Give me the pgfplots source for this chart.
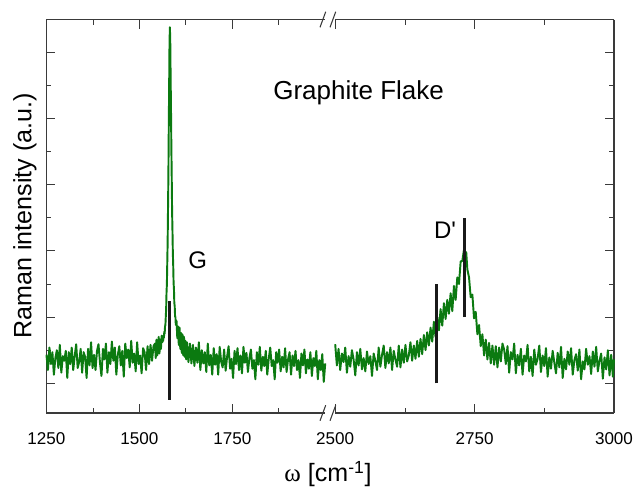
\documentclass[border=0pt]{standalone}
\usepackage{fontspec}
\setmainfont{Liberation Sans}
\newfontfamily\serif{Liberation Serif}
\usepackage{pgfplots}
\pgfplotsset{compat=1.18}
\definecolor{spec}{HTML}{0B7A10}
\definecolor{frame}{HTML}{3A3A3A}

\pgfplotsset{
  brk/.style={
    scale only axis, width=209.1pt, height=295.1pt,
    anchor=south west, clip=false,
    ymin=0.551, ymax=6.495,
    ytick={1,2,3,4,5,6}, minor ytick={1.5,2.5,3.5,4.5,5.5},
    yticklabels={},
    tick align=inside,
    major tick length=6.75pt, minor tick length=3.75pt,
    tick style={line width=0.6pt, frame},
    axis line style={line width=0.8pt, frame},
    xticklabel style={font=\fontsize{12.8}{14}\selectfont, anchor=base, yshift=-24pt},
    axis x line*=box,
  },
  spec/.style={color=spec, line width=1.45pt, line join=round},
  marker/.style={color=black!90, line width=2.3pt},
}

\begin{document}
\begin{tikzpicture}
\path[use as bounding box] (0,0) rectangle (474.75pt,369pt);

% left part of the broken axis
\begin{axis}[brk, at={(34.84pt,59.25pt)},
  xmin=1250, xmax=2000,
  xtick={1250,1500,1750}, xticklabels={1250,1500,1750},
  minor xtick={1375,1625,1875},
  axis y line*=left, ytick pos=left]
\addplot[spec] coordinates {
(1250,1.43)(1254,1.20)(1258,1.54)(1262,1.29)(1266,1.47)(1270,1.13)(1274,1.38)(1278,1.50)
(1282,1.23)(1286,1.58)(1290,1.16)(1294,1.41)(1298,1.34)(1302,1.49)(1306,1.08)(1310,1.47)
(1314,1.29)(1318,1.54)(1322,1.20)(1326,1.41)(1330,1.59)(1334,1.23)(1338,1.32)(1342,1.52)
(1346,1.16)(1350,1.47)(1354,1.40)(1358,1.08)(1362,1.52)(1366,1.27)(1370,1.62)(1374,1.23)
(1378,1.43)(1382,1.20)(1386,1.49)(1390,1.59)(1394,1.31)(1398,1.11)(1402,1.52)(1406,1.36)
(1410,1.60)(1414,1.16)(1418,1.47)(1422,1.29)(1426,1.63)(1430,1.34)(1434,1.54)(1438,1.13)
(1442,1.43)(1446,1.56)(1450,1.27)(1454,1.49)(1458,1.10)(1462,1.60)(1466,1.38)(1470,1.51)
(1474,1.24)(1478,1.64)(1482,1.31)(1486,1.45)(1490,1.18)(1494,1.62)(1498,1.29)(1502,1.42)
(1506,1.15)(1510,1.53)(1514,1.47)(1518,1.20)(1522,1.56)(1526,1.29)(1530,1.58)(1534,1.34)
(1538,1.56)(1542,1.60)(1544,1.38)(1546,1.66)(1548,1.42)(1550,1.50)(1552,1.70)(1554,1.45)
(1556,1.66)(1558,1.52)(1560,1.72)(1562,1.62)(1563,1.68)(1564,1.64)(1565,1.72)(1566,1.69)
(1567,1.78)(1568,1.75)(1569,1.86)(1570,1.88)(1571,2.00)(1572,2.12)(1573,2.37)(1574,2.50)
(1575,2.82)(1576,3.12)(1577,3.62)(1578,4.12)(1579,4.83)(1580,5.45)(1581,6.10)(1582,6.38)
(1583,6.20)(1584,5.65)(1585,5.16)(1586,4.58)(1587,4.12)(1588,3.60)(1589,3.31)(1590,2.97)
(1591,2.78)(1592,2.52)(1593,2.42)(1594,2.21)(1595,2.17)(1596,2.01)(1597,2.00)(1598,1.88)
(1600,1.94)(1602,1.68)(1604,1.86)(1606,1.58)(1608,1.84)(1610,1.52)(1612,1.76)(1614,1.46)
(1616,1.74)(1618,1.42)(1620,1.70)(1622,1.40)(1624,1.64)(1626,1.36)(1628,1.62)(1632,1.32)
(1636,1.60)(1640,1.30)(1644,1.58)(1648,1.26)(1652,1.54)(1656,1.31)(1660,1.62)(1664,1.20)
(1668,1.50)(1672,1.30)(1676,1.47)(1680,1.17)(1684,1.60)(1688,1.27)(1692,1.43)(1696,1.13)
(1700,1.53)(1704,1.28)(1708,1.44)(1712,1.13)(1716,1.55)(1720,1.33)(1724,1.24)(1728,1.51)
(1732,1.19)(1736,1.40)(1740,1.56)(1744,1.22)(1748,1.37)(1752,1.08)(1756,1.49)(1760,1.29)
(1764,1.53)(1768,1.20)(1772,1.42)(1776,1.15)(1780,1.55)(1784,1.31)(1788,1.46)(1792,1.17)
(1796,1.38)(1800,1.51)(1804,1.22)(1808,1.35)(1812,1.06)(1816,1.47)(1820,1.28)(1824,1.55)
(1828,1.19)(1832,1.40)(1836,1.26)(1840,1.49)(1844,1.13)(1848,1.37)(1852,1.54)(1856,1.26)
(1860,1.35)(1864,1.06)(1868,1.47)(1872,1.31)(1876,1.51)(1880,1.18)(1884,1.40)(1888,1.24)
(1892,1.53)(1896,1.17)(1900,1.36)(1904,1.47)(1908,1.13)(1912,1.42)(1916,1.26)(1920,1.49)
(1924,1.20)(1928,1.35)(1932,1.08)(1936,1.45)(1940,1.27)(1944,1.51)(1948,1.15)(1952,1.36)
(1956,1.22)(1960,1.47)(1964,1.11)(1968,1.38)(1972,1.26)(1976,1.49)(1980,1.06)(1984,1.35)
(1988,1.20)(1992,1.44)(1996,1.02)(2000,1.30)
};
\addplot[marker] coordinates {(1582,0.75)(1582,2.25)};
\node[font=\fontsize{18}{20}\selectfont, anchor=base] at (axis cs:1657,2.737) {G};
\end{axis}

% right part of the broken axis
\begin{axis}[brk, at={(251.4pt,59.25pt)},
  xmin=2500, xmax=3000,
  xtick={2500,2750,3000}, xticklabels={2500,2750,3000},
  minor xtick={2625,2875},
  axis y line*=right, ytick pos=right]
\addplot[spec] coordinates {
(2500,1.59)(2503,1.27)(2506,1.52)(2509,1.20)(2512,1.45)(2515,1.32)(2518,1.54)(2521,1.16)
(2524,1.41)(2527,1.25)(2530,1.50)(2533,1.36)(2536,1.12)(2539,1.47)(2542,1.27)(2545,1.52)
(2548,1.21)(2551,1.38)(2554,1.18)(2557,1.48)(2560,1.29)(2563,1.41)(2566,1.11)(2569,1.45)
(2572,1.34)(2575,1.20)(2578,1.54)(2581,1.25)(2584,1.43)(2587,1.57)(2590,1.23)(2593,1.47)
(2596,1.30)(2599,1.54)(2602,1.20)(2605,1.49)(2608,1.36)(2611,1.25)(2614,1.57)(2617,1.24)
(2620,1.51)(2623,1.31)(2626,1.58)(2629,1.33)(2632,1.42)(2635,1.62)(2638,1.34)(2641,1.57)
(2644,1.37)(2647,1.64)(2650,1.40)(2653,1.67)(2656,1.44)(2659,1.73)(2662,1.50)(2665,1.77)
(2668,1.57)(2671,1.84)(2674,1.63)(2677,1.93)(2680,1.70)(2683,2.00)(2686,1.80)(2689,2.12)
(2692,1.87)(2695,2.21)(2698,1.97)(2701,2.26)(2704,2.05)(2707,2.36)(2710,2.09)(2713,2.47)
(2716,2.26)(2719,2.60)(2722,2.50)(2725,2.84)(2728,2.85)(2731,3.02)(2733,2.92)(2735,2.98)
(2737,2.72)(2740,2.60)(2743,2.30)(2746,2.34)(2749,1.98)(2752,2.08)(2755,1.74)(2758,1.88)
(2761,1.56)(2764,1.74)(2767,1.42)(2770,1.66)(2773,1.36)(2776,1.61)(2779,1.30)(2782,1.57)
(2785,1.28)(2788,1.56)(2791,1.24)(2794,1.54)(2797,1.33)(2800,1.60)(2803,1.51)(2806,1.29)
(2809,1.56)(2812,1.16)(2815,1.47)(2818,1.36)(2821,1.60)(2824,1.15)(2827,1.43)(2830,1.27)
(2833,1.52)(2836,1.13)(2839,1.42)(2842,1.33)(2845,1.58)(2848,1.18)(2851,1.40)(2854,1.11)
(2857,1.51)(2860,1.28)(2863,1.37)(2866,1.57)(2869,1.17)(2872,1.42)(2875,1.26)(2878,1.53)
(2881,1.10)(2884,1.39)(2887,1.22)(2890,1.49)(2893,1.31)(2896,1.15)(2899,1.46)(2902,1.24)
(2905,1.55)(2908,1.08)(2911,1.37)(2914,1.21)(2917,1.48)(2920,1.28)(2923,1.53)(2926,1.13)
(2929,1.35)(2932,1.44)(2935,1.19)(2938,1.51)(2941,1.06)(2944,1.33)(2947,1.21)(2950,1.52)
(2953,1.28)(2956,1.41)(2959,1.14)(2962,1.48)(2965,1.25)(2968,1.55)(2971,1.18)(2974,1.34)
(2977,1.45)(2980,1.07)(2983,1.39)(2986,1.21)(2989,1.50)(2992,1.12)(2995,1.43)(2998,1.10)
(3000,1.36)
};
\addplot[marker] coordinates {(2682,1.0)(2682,2.5)};
\addplot[marker] coordinates {(2732,2.0)(2732,3.5)};
\node[font=\fontsize{18}{20}\selectfont, anchor=base] at (axis cs:2697,3.19) {D\textquotesingle};
\node[font=\fontsize{19.5}{22}\selectfont, anchor=base] at (axis cs:2542,5.28) {Graphite Flake};
\end{axis}

% break marks
\draw[frame, line width=0.8pt] (240pt,348.5pt) -- (244.3pt,360.2pt);
\draw[frame, line width=0.8pt] (247.5pt,348.5pt) -- (251.8pt,360.2pt);
\draw[frame, line width=0.8pt] (240pt,53.4pt) -- (244.3pt,65.1pt);
\draw[frame, line width=0.8pt] (247.5pt,53.4pt) -- (251.8pt,65.1pt);

% axis titles
\node[rotate=90, anchor=base, font=\fontsize{18.8}{21}\selectfont] at (23.6pt,207.2pt) {Raman intensity (a.u.)};
\node[anchor=base, font=\fontsize{18.8}{21}\selectfont] at (246pt,7.5pt) {{\serif ω} [cm\textsuperscript{-1}]};
\end{tikzpicture}
\end{document}
